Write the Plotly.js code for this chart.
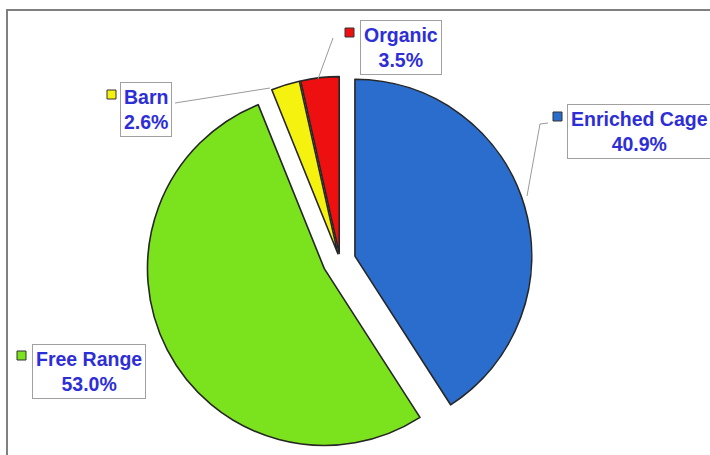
<!DOCTYPE html>
<html>
<head>
<meta charset="utf-8">
<script src="https://cdn.plot.ly/plotly-3.0.1.min.js"></script>
<style>html,body{margin:0;padding:0;background:#fff;}#chart{width:710px;height:455px;}</style>
</head>
<body>
<div id="chart"></div>
<script>
// ---- data ----
const labels = ['Enriched Cage', 'Free Range', 'Barn', 'Organic'];
const values = [40.9, 53.0, 2.6, 3.5];
const colors = ['#2a6dcc', '#7be21e', '#f4f20e', '#ee1010'];
const pulls = [0.088, 0.10, 0.04, 0.04];

// ---- layout helpers (pixel -> paper) ----
const W = 710, H = 455;
const M = {l: 0, r: 0, t: 66, b: 0};
const px = x => (x - M.l) / (W - M.l - M.r);
const py = y => (H - M.b - y) / (H - M.t - M.b);

// label box placement (top-left corner in px), key square, leader line path
const labelPos = [
  {x: 567, y: 104, key: [553, 112], line: [[548,123],[540,124],[527,196]]},
  {x: 32,  y: 344, key: [17, 351],  line: null},
  {x: 120, y: 82,  key: [107, 90],  line: [[175,103],[270,88]]},
  {x: 360, y: 20,  key: [345, 28],  line: [[333,38],[318,79]]}
];

const textColor = '#2e2ed6';
const annotations = [];
const shapes = [];

// frame
shapes.push({type: 'rect', xref: 'paper', yref: 'paper',
  x0: px(7), x1: px(760), y0: py(500), y1: py(10),
  line: {color: '#808080', width: 2}, fillcolor: 'rgba(0,0,0,0)', layer: 'below'});

labels.forEach((lab, i) => {
  const p = labelPos[i];
  annotations.push({
    xref: 'paper', yref: 'paper', x: px(p.x), y: py(p.y),
    xanchor: 'left', yanchor: 'top', showarrow: false,
    text: '<b>' + lab + '<br>' + values[i].toFixed(1) + '%</b>',
    align: 'center',
    font: {family: 'Liberation Sans, Arial, sans-serif', size: 19.5, color: textColor},
    bgcolor: '#ffffff', bordercolor: '#a0a0a0', borderwidth: 1, borderpad: 3
  });
  shapes.push({type: 'rect', xref: 'paper', yref: 'paper',
    x0: px(p.key[0]), x1: px(p.key[0] + 9), y0: py(p.key[1] + 9), y1: py(p.key[1]),
    fillcolor: colors[i], line: {color: '#333333', width: 1}});
  if (p.line) {
    const d = p.line.map((pt, k) => (k ? 'L' : 'M') + px(pt[0]) + ',' + py(pt[1])).join(' ');
    shapes.push({type: 'path', xref: 'paper', yref: 'paper', path: d,
      line: {color: '#9a9a9a', width: 1}});
  }
});

const trace = {
  type: 'pie',
  labels: labels,
  values: values,
  sort: false,
  direction: 'clockwise',
  rotation: 0,
  pull: pulls,
  marker: {colors: colors, line: {color: '#262626', width: 1.6}},
  textinfo: 'none',
  hoverinfo: 'label+percent',
  showlegend: false,
  domain: {x: [px(340 - 194.5), px(340 + 194.5)], y: [0, 1]}
};

const layout = {
  width: W, height: H,
  margin: M,
  paper_bgcolor: '#ffffff',
  plot_bgcolor: '#ffffff',
  showlegend: false,
  annotations: annotations,
  shapes: shapes
};

Plotly.newPlot('chart', [trace], layout, {displayModeBar: false, staticPlot: true});
</script>
</body>
</html>
